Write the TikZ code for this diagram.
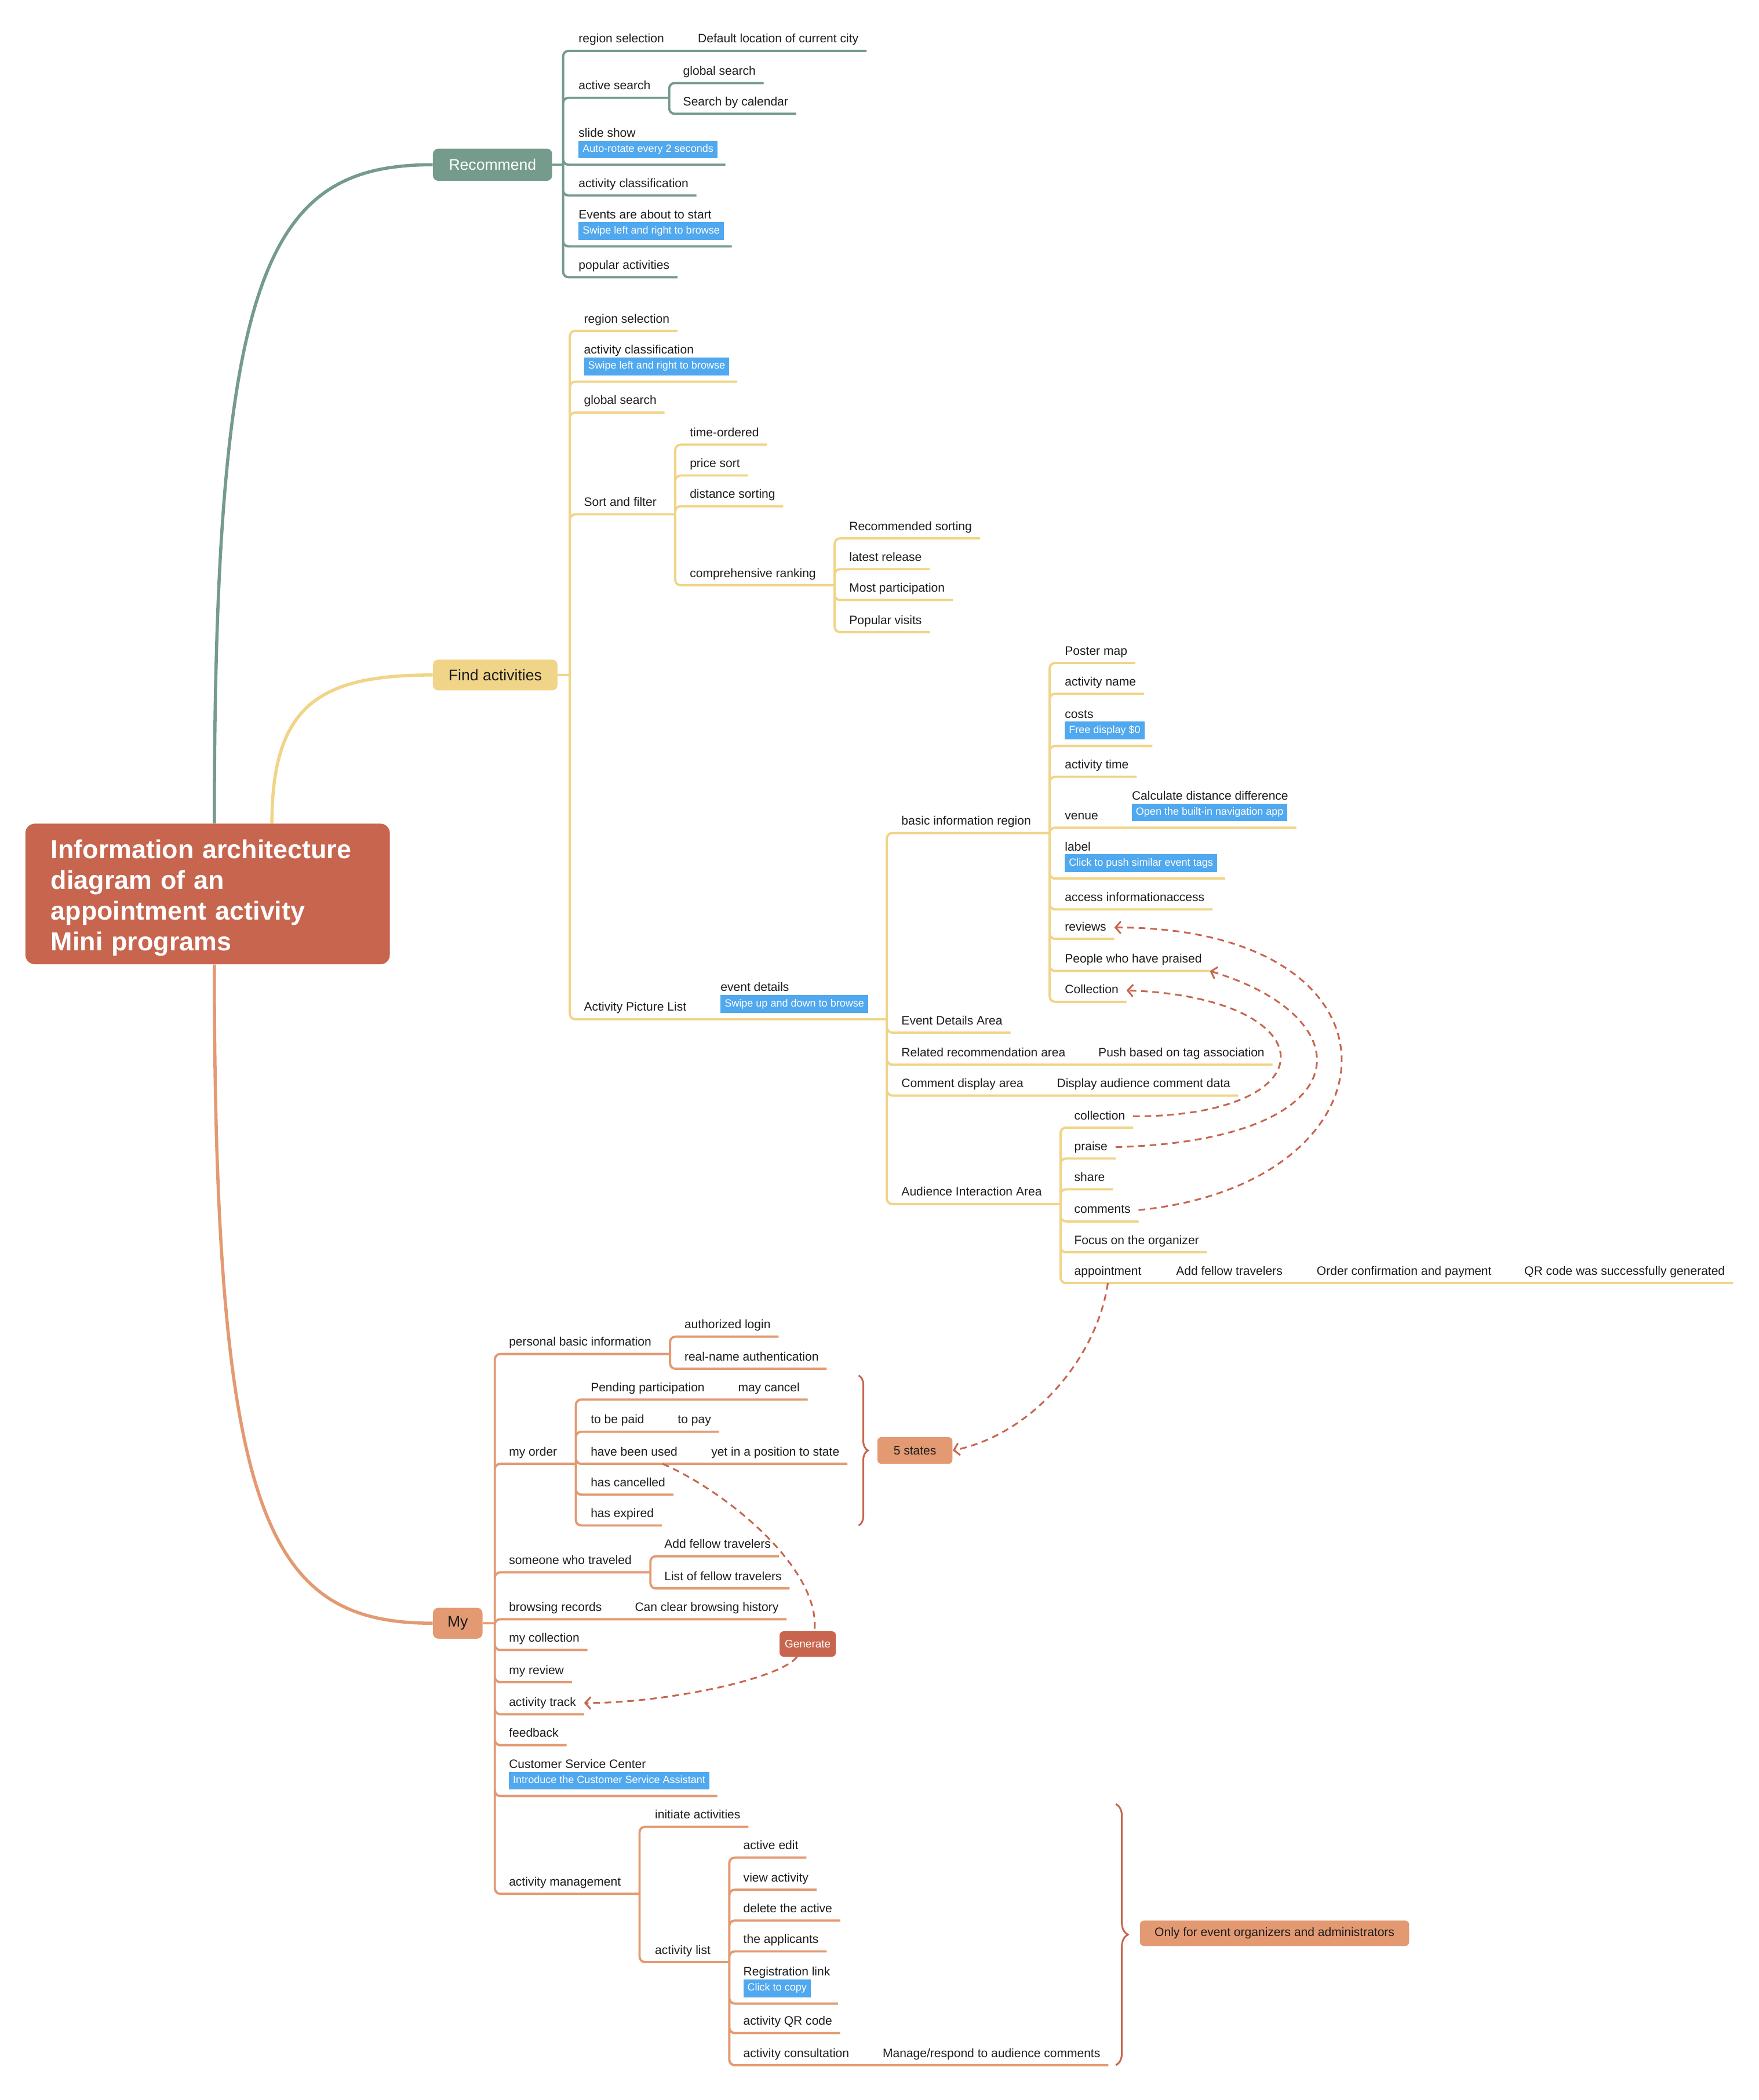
\documentclass[tikz,border=0pt]{standalone}
\usepackage{fontspec}
\setmainfont{Liberation Sans}
\usetikzlibrary{arrows.meta,decorations.pathreplacing}

\definecolor{recgreen}{HTML}{749B8B}
\definecolor{findyellow}{HTML}{F0D487}
\definecolor{myorange}{HTML}{E39A72}
\definecolor{rootred}{HTML}{C8654E}
\definecolor{tagblue}{HTML}{50A8EE}
\definecolor{inkdark}{HTML}{1C1C1C}

\newcommand{\tagnote}[1]{{\fontsize{7.8}{9}\selectfont\setlength{\fboxsep}{3pt}\colorbox{tagblue}{\textcolor{white}{\vphantom{Ag}#1}}}}

\begin{document}
\begin{tikzpicture}[
    x=1pt, y=-1pt,
    base/.style={anchor=south west, inner xsep=0pt, inner ysep=4pt, outer ysep=0pt,
      text height=7pt, text depth=2pt, text=inkdark, font=\fontsize{9.1}{11.3}\selectfont},
    leaf/.style={base, outer xsep=6pt, xshift=-6pt},
    fork/.style={base, outer xsep=14pt, xshift=-14pt},
    tagged/.style={text height=, text depth=, align=left, inner ysep=4.8pt},
    mainbox/.style={anchor=west, rounded corners=4pt, minimum height=23pt, inner xsep=0pt,
      text=inkdark, font=\fontsize{11.5}{13}\selectfont},
    rootbox/.style={fill=rootred, rounded corners=7pt, text=white, align=left,
      text width=234pt, minimum height=105pt, inner xsep=19pt,
      font=\fontsize{19.4}{23}\selectfont\bfseries},
    note/.style={rounded corners=3pt, minimum height=20pt, inner xsep=0pt, text=inkdark,
      font=\fontsize{9.1}{11}\selectfont},
    recline/.style={draw=recgreen, line width=1.7pt, rounded corners=4pt},
    findline/.style={draw=findyellow, line width=1.7pt, rounded corners=4pt},
    myline/.style={draw=myorange, line width=1.7pt, rounded corners=4pt},
    stem/.style={line width=2.4pt},
    link/.style={draw=rootred, line width=1.3pt, dash pattern=on 5pt off 3.5pt},
    relation/.style={link, -{Straight Barb[length=4pt,width=9pt]}},
    curly/.style={draw=rootred, line width=1.3pt, decorate, decoration={brace, amplitude=#1}},
  ]
  \useasboundingbox (0,0) rectangle (1313,1568);

  \node[rootbox] (root) at (155,667.5) {\rule{0pt}{20pt}Information architecture\\diagram of an\\appointment activity\\Mini programs};

  % Recommend
  \node[mainbox, fill=recgreen, text=white, minimum width=89pt, minimum height=24pt] (rec) at (323,123) {Recommend};
  \coordinate (rechub) at ([xshift=8pt]rec.east);
  \node[fork] (rrg) at (432,38) {region selection};
  \node[leaf] (rdef) at (521,38) {Default location of current city};
  \node[fork] (ract) at (432,73) {active search};
  \node[leaf] (rglob) at (510,62) {global search};
  \node[leaf] (rcal) at (510,85) {Search by calendar};
  \node[leaf, tagged] (rslide) at (432,123) {slide show\\\tagnote{Auto-rotate every 2 seconds}};
  \node[leaf] (rcls) at (432,146) {activity classification};
  \node[leaf, tagged] (revt) at (432,184) {Events are about to start\\\tagnote{Swipe left and right to browse}};
  \node[leaf] (rpop) at (432,207) {popular activities};

  % Find activities
  \node[mainbox, fill=findyellow, minimum width=93pt] (fa) at (323,504) {Find activities};
  \coordinate (fahub) at ([xshift=9pt]fa.east);
  \node[leaf] (frg) at (436,247) {region selection};
  \node[leaf, tagged] (fcls) at (436,285) {activity classification\\\tagnote{Swipe left and right to browse}};
  \node[leaf] (fglob) at (436,308) {global search};
  \node[fork] (fsort) at (436,384) {Sort and filter};
  \node[leaf] (ftime) at (515,332) {time-ordered};
  \node[leaf] (fprice) at (515,355) {price sort};
  \node[leaf] (fdist) at (515,378) {distance sorting};
  \node[fork] (fcomp) at (515,437) {comprehensive ranking};
  \node[leaf] (frec) at (634,402) {Recommended sorting};
  \node[leaf] (flate) at (634,425) {latest release};
  \node[leaf] (fmost) at (634,448) {Most participation};
  \node[leaf] (fpop) at (634,472) {Popular visits};
  \node[fork] (fpic) at (436,761) {Activity Picture List};
  \node[fork, tagged] (fdet) at (538,761) {event details\\\tagnote{Swipe up and down to browse}};
  \node[fork] (fbas) at (673,622) {basic information region};
  \node[leaf] (fpost) at (795,495) {Poster map};
  \node[leaf] (fname) at (795,518) {activity name};
  \node[leaf, tagged] (fcost) at (795,557) {costs\\\tagnote{Free display \$0}};
  \node[leaf] (ftim) at (795,580) {activity time};
  \node[fork] (fven) at (795,618) {venue};
  \node[leaf, tagged] (fcalc) at (845,618) {Calculate distance difference\\\tagnote{Open the built-in navigation app}};
  \node[leaf, tagged] (flab) at (795,656) {label\\\tagnote{Click to push similar event tags}};
  \node[leaf] (facc) at (795,679) {access informationaccess};
  \node[leaf] (frev) at (795,701) {reviews};
  \node[leaf] (fprs) at (795,725) {People who have praised};
  \node[leaf] (fcol) at (795,748) {Collection};
  \node[leaf] (fevt) at (673,771) {Event Details Area};
  \node[fork] (frel) at (673,795) {Related recommendation area};
  \node[leaf] (fpush) at (820,795) {Push based on tag association};
  \node[fork] (fcom) at (673,818) {Comment display area};
  \node[leaf] (fshow) at (789,818) {Display audience comment data};
  \node[fork] (faud) at (673,899) {Audience Interaction Area};
  \node[leaf] (acol) at (802,842) {collection};
  \node[leaf] (aprs) at (802,865) {praise};
  \node[leaf] (ashr) at (802,888) {share};
  \node[leaf] (acmt) at (802,912) {comments};
  \node[leaf] (afoc) at (802,935) {Focus on the organizer};
  \node[fork] (aapp) at (802,958) {appointment};
  \node[fork] (aadd) at (878,958) {Add fellow travelers};
  \node[fork] (aord) at (983,958) {Order confirmation and payment};
  \node[leaf] (aqr) at (1138,958) {QR code was successfully generated};

  % My
  \node[mainbox, fill=myorange, minimum width=37pt] (my) at (323,1212) {My};
  \coordinate (myhub) at ([xshift=9pt]my.east);
  \node[fork] (mpers) at (380,1011) {personal basic information};
  \node[leaf] (mauth) at (511,998) {authorized login};
  \node[leaf] (mreal) at (511,1022) {real-name authentication};
  \node[fork] (mord) at (380,1093) {my order};
  \node[fork] (opnd) at (441,1045) {Pending participation};
  \node[leaf] (ocan) at (551,1045) {may cancel};
  \node[fork] (opaid) at (441,1069) {to be paid};
  \node[leaf] (opay) at (506,1069) {to pay};
  \node[fork] (oused) at (441,1093) {have been used};
  \node[leaf] (ostat) at (531,1093) {yet in a position to state};
  \node[leaf] (ocanc) at (441,1116) {has cancelled};
  \node[leaf] (oexp) at (441,1139) {has expired};
  \node[fork] (mtrv) at (380,1174) {someone who traveled};
  \node[leaf] (tadd) at (496,1162) {Add fellow travelers};
  \node[leaf] (tlist) at (496,1186) {List of fellow travelers};
  \node[fork] (mbrw) at (380,1209) {browsing records};
  \node[leaf] (bclr) at (474,1209) {Can clear browsing history};
  \node[leaf] (mcol) at (380,1232) {my collection};
  \node[leaf] (mrev) at (380,1256) {my review};
  \node[leaf] (mtrk) at (380,1280) {activity track};
  \node[leaf] (mfdb) at (380,1303) {feedback};
  \node[leaf, tagged] (mcsc) at (380,1341) {Customer Service Center\\\tagnote{Introduce the Customer Service Assistant}};
  \node[fork] (mman) at (380,1414) {activity management};
  \node[leaf] (minit) at (489,1364) {initiate activities};
  \node[fork] (mlist) at (489,1465) {activity list};
  \node[leaf] (ledit) at (555,1387) {active edit};
  \node[leaf] (lview) at (555,1411) {view activity};
  \node[leaf] (ldel) at (555,1434) {delete the active};
  \node[leaf] (lapp) at (555,1457) {the applicants};
  \node[leaf, tagged] (lreg) at (555,1496) {Registration link\\\tagnote{Click to copy}};
  \node[leaf] (lqr) at (555,1518) {activity QR code};
  \node[fork] (lcon) at (555,1542) {activity consultation};
  \node[leaf] (lmng) at (659,1542) {Manage/respond to audience comments};

  \node[note, fill=myorange, minimum width=56pt] (five) at (683,1083) {5 states};
  \node[note, fill=rootred, text=white, minimum width=42pt, minimum height=19pt,
    font=\fontsize{8.2}{10}\selectfont] (gen) at (603,1227.5) {Generate};
  \node[note, fill=myorange, minimum width=201pt, minimum height=19pt] (only) at (951.5,1443.5) {Only for event organizers and administrators};

  \draw[recline, stem] ([xshift=5pt]root.north) .. controls (160,200) and (200,123) .. (rec.west);
  \draw[findline, stem] ([xshift=48pt]root.north) .. controls (203,525) and (240,504) .. (fa.west);
  \draw[myline, stem] ([xshift=5pt]root.south) .. controls (160,1135) and (200,1212) .. (my.west);

  \draw[recline] (rec.east) -- (rechub)
    (rechub) |- (rrg.south east) (rechub) |- (ract.south east)
    (rechub) |- (rslide.south east) (rechub) |- (rcls.south east)
    (rechub) |- (revt.south east) (rechub) |- (rpop.south east)
    (rrg.south east) -- (rdef.south east)
    (ract.south east) |- (rglob.south east) (ract.south east) |- (rcal.south east);

  \draw[findline] (fa.east) -- (fahub)
    (fahub) |- (frg.south east) (fahub) |- (fcls.south east) (fahub) |- (fglob.south east)
    (fahub) |- (fsort.south east) (fahub) |- (fpic.south east)
    (fsort.south east) |- (ftime.south east) (fsort.south east) |- (fprice.south east)
    (fsort.south east) |- (fdist.south east) (fsort.south east) |- (fcomp.south east)
    (fcomp.south east) |- (frec.south east) (fcomp.south east) |- (flate.south east)
    (fcomp.south east) |- (fmost.south east) (fcomp.south east) |- (fpop.south east)
    (fpic.south east) -- (fdet.south east)
    (fdet.south east) |- (fbas.south east) (fdet.south east) |- (fevt.south east)
    (fdet.south east) |- (frel.south east) (fdet.south east) |- (fcom.south east)
    (fdet.south east) |- (faud.south east)
    (fbas.south east) |- (fpost.south east) (fbas.south east) |- (fname.south east)
    (fbas.south east) |- (fcost.south east) (fbas.south east) |- (ftim.south east)
    (fbas.south east) |- (fven.south east) (fbas.south east) |- (flab.south east)
    (fbas.south east) |- (facc.south east) (fbas.south east) |- (frev.south east)
    (fbas.south east) |- (fprs.south east) (fbas.south east) |- (fcol.south east)
    (fven.south east) -- (fcalc.south east)
    (frel.south east) -- (fpush.south east)
    (fcom.south east) -- (fshow.south east)
    (faud.south east) |- (acol.south east) (faud.south east) |- (aprs.south east)
    (faud.south east) |- (ashr.south east) (faud.south east) |- (acmt.south east)
    (faud.south east) |- (afoc.south east) (faud.south east) |- (aapp.south east)
    (aapp.south east) -- (aadd.south east) -- (aord.south east) -- (aqr.south east);

  \draw[myline] (my.east) -- (myhub)
    (myhub) |- (mpers.south east) (myhub) |- (mord.south east)
    (myhub) |- (mtrv.south east) (myhub) |- (mbrw.south east)
    (myhub) |- (mcol.south east) (myhub) |- (mrev.south east)
    (myhub) |- (mtrk.south east) (myhub) |- (mfdb.south east)
    (myhub) |- (mcsc.south east) (myhub) |- (mman.south east)
    (mpers.south east) |- (mauth.south east) (mpers.south east) |- (mreal.south east)
    (mord.south east) |- (opnd.south east) (mord.south east) |- (opaid.south east)
    (mord.south east) |- (oused.south east) (mord.south east) |- (ocanc.south east)
    (mord.south east) |- (oexp.south east)
    (opnd.south east) -- (ocan.south east)
    (opaid.south east) -- (opay.south east)
    (oused.south east) -- (ostat.south east)
    (mtrv.south east) |- (tadd.south east) (mtrv.south east) |- (tlist.south east)
    (mbrw.south east) -- (bclr.south east)
    (mman.south east) |- (minit.south east) (mman.south east) |- (mlist.south east)
    (mlist.south east) |- (ledit.south east) (mlist.south east) |- (lview.south east)
    (mlist.south east) |- (ldel.south east) (mlist.south east) |- (lapp.south east)
    (mlist.south east) |- (lreg.south east) (mlist.south east) |- (lqr.south east)
    (mlist.south east) |- (lcon.south east)
    (lcon.south east) -- (lmng.south east);

  \draw[curly=7pt] (641,1027) -- (641,1139);
  \draw[curly=9pt] (833,1347) -- (833,1542);

  \draw[relation] (acol.east) .. controls +(150,0) and +(150,5) .. (fcol.east);
  \draw[relation] (aprs.east) .. controls +(185,-5) and +(117,35) .. (fprs.south east);
  \draw[relation] (acmt.east) .. controls +(200,-20) and +(228,0) .. (frev.east);
  \draw[relation] (aapp.south) .. controls +(-8,55) and +(60,-12) .. (five.east);
  \draw[link] ([xshift=-25pt]oused.south east) .. controls +(50,22) and +(5,-45) .. ([xshift=5pt]gen.north);
  \draw[relation] ([xshift=-8pt]gen.south) .. controls +(-15,18) and +(54,0.5) .. (mtrk.east);
\end{tikzpicture}
\end{document}
